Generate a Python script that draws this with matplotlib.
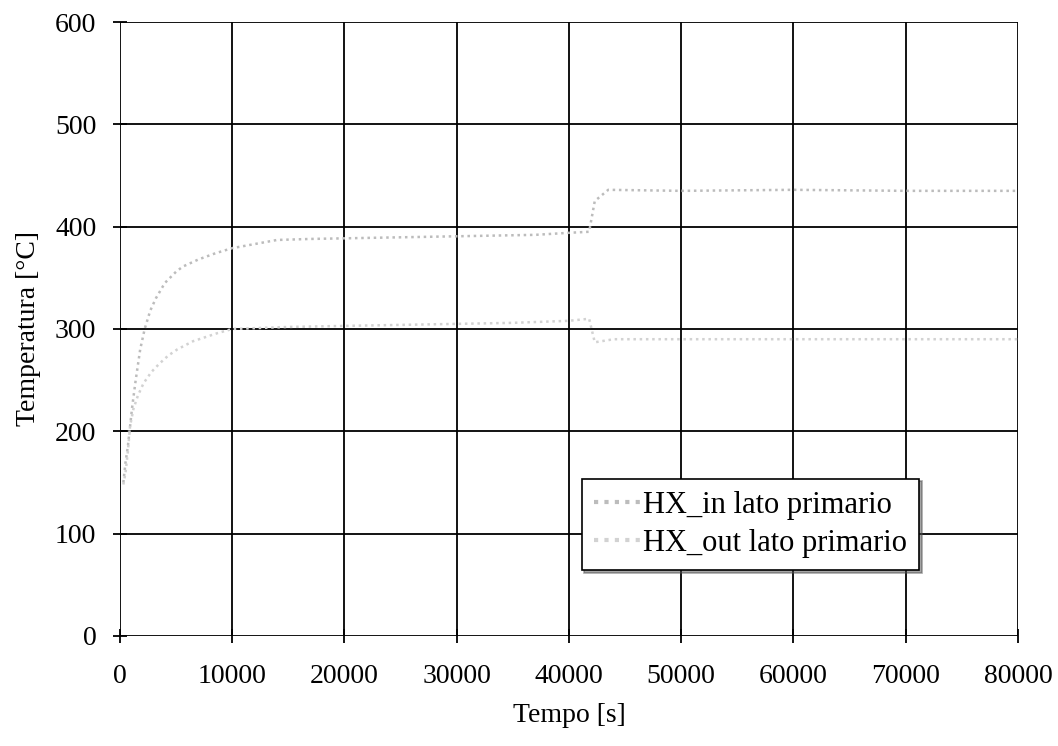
import matplotlib
matplotlib.use("Agg")
import matplotlib.pyplot as plt

# Dati
t_in = [300, 500, 700, 900, 1100, 1400, 1800, 2200, 2700, 3200, 4000, 5000, 5600, 7000,
        8500, 10000, 12000, 14000, 17000, 22000, 27000, 32000, 37000, 40000, 41800,
        42300, 43500, 50000, 60000, 70000, 80000]
hx_in = [150, 170, 185, 205, 225, 250, 280, 300, 318, 330, 345, 356, 361, 368,
         374, 379, 383, 387, 388, 389, 390, 391, 392, 394, 395,
         425, 436, 435, 436, 435, 435]

t_out = [300, 500, 700, 900, 1200, 1600, 2100, 2800, 3500, 4300, 5100, 6500, 8700,
         10000, 15000, 20000, 25000, 30000, 35000, 40000, 41800, 42300, 44000,
         50000, 60000, 70000, 80000]
hx_out = [148, 160, 180, 205, 222, 235, 247, 258, 266, 274, 280, 288, 296,
          300, 302, 303, 304, 305, 306, 308, 310, 287, 290,
          290, 290, 290, 290]

plt.rcParams['font.family'] = ['Liberation Serif', 'DejaVu Serif']

fig = plt.figure(figsize=(10.58, 7.46), dpi=100)
ax = fig.add_axes([0.1134, 0.1475, 0.8487, 0.823])

ax.plot(t_in, hx_in, color='#bcbcbc', lw=1.8, ls=(0, (1, 1.5)), label='HX_in lato primario')
ax.plot(t_out, hx_out, color='#d2d2d2', lw=1.8, ls=(0, (1, 1.5)), label='HX_out lato primario')

ax.set_xlim(0, 80000)
ax.set_ylim(0, 600)
ax.set_xticks(range(0, 80001, 10000))
ax.set_yticks(range(0, 601, 100))
ax.grid(True, color='black', lw=1.3)
for s in ax.spines.values():
    s.set_visible(False)
ax.tick_params(labelsize=20, length=10, width=1.3, direction='inout')
ax.tick_params(axis='x', pad=15)
ax.tick_params(axis='y', pad=12)

ax.set_xlabel('Tempo [s]', fontsize=20, labelpad=10)
ax.set_ylabel('Temperatura [°C]', fontsize=20, labelpad=10)

leg = ax.legend(loc='lower left', bbox_to_anchor=(0.514, 0.107), fontsize=22,
                frameon=True, fancybox=False, shadow=True, framealpha=1,
                edgecolor='black', handlelength=1.5, handletextpad=0.1,
                borderpad=0.4, labelspacing=0.3, borderaxespad=0)
leg.get_frame().set_linewidth(1.2)
for h in leg.get_lines():
    h.set_linewidth(3)

fig.savefig('out.png', dpi=100)
